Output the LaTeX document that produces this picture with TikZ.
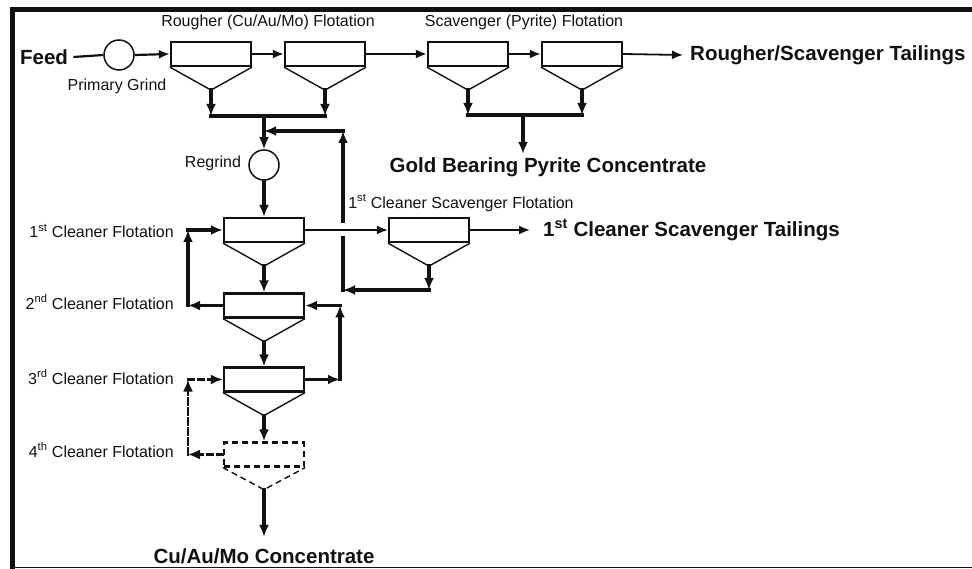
\documentclass[tikz,border=0pt]{standalone}
\usepackage{fontspec}
\setsansfont{Liberation Sans}
\usetikzlibrary{arrows.meta,calc}
\definecolor{fsink}{HTML}{111111}
\tikzset{
  cell/.style={rectangle,draw=fsink,line width=2.2pt,minimum width=80pt,minimum height=24pt,inner sep=0pt},
  trial/.style={dash pattern=on 6pt off 4pt},
  cone/.style={draw=fsink,line width=1.4pt},
  mill/.style={circle,draw=fsink,line width=1.5pt,minimum size=30pt,inner sep=0pt},
  bus/.style={draw=fsink,line width=3.2pt,line cap=rect},
  flow/.style={bus,-{Latex[length=12pt,width=10pt]}},
  pipe/.style={draw=fsink,line width=2.2pt},
  feedflow/.style={pipe,-{Latex[length=11pt,width=9pt]}},
  thinflow/.style={-{Latex[length=11pt,width=9pt]},draw=fsink,line width=1.8pt},
  label/.style={font=\sffamily\fontsize{16}{19}\selectfont,text=fsink},
  product/.style={font=\sffamily\fontsize{20.5}{24}\selectfont\bfseries,text=fsink},
}
\begin{document}
\begin{tikzpicture}[font=\sffamily,x=1pt,y=-1pt]
  \useasboundingbox (0,0) rectangle (972,569);
  \draw[fsink,line width=4.5pt] (10,9.5) -- (972,9.5);
  \draw[fsink,line width=5pt] (12.5,7.25) -- (12.5,569);
  \draw[fsink,line width=1.5pt] (12.5,567.5) -- (972,567.5);
  \foreach \n/\x/\y in {r1/211/54,r2/325/54,s1/468/54,s2/582/54,c1/264/230,cs/429/230,c2/264/305.5,c3/264/379.5} {
    \node[cell] (\n) at (\x,\y) {};
    \coordinate (\n-a) at ($(\n.south)+(0,23)$);
    \draw[cone] (\n.south west) -- (\n-a) -- (\n.south east);
  }
  \node[cell,trial] (c4) at (264,454.5) {};
  \coordinate (c4-a) at ($(c4.south)+(0,22)$);
  \draw[cone,trial] (c4.south west) -- (c4-a) -- (c4.south east);
  \node[mill] (pg) at (119,55) {};
  \node[mill] (rg) at (264,165) {};
  \node[product] (feed) at (44,57) {Feed};
  \node[label] (pglab) at (117,86) {Primary Grind};
  \node[label] (rlab) at (268,22) {Rougher (Cu/Au/Mo) Flotation};
  \node[label] (slab) at (524,22) {Scavenger (Pyrite) Flotation};
  \node[product,anchor=west,inner sep=0pt] (rst) at (690,55) {Rougher/Scavenger Tailings};
  \node[product] (gold) at (548,167) {Gold Bearing Pyrite Concentrate};
  \node[label] (rglab) at (213,163) {Regrind};
  \node[label] (cslab) at (461,203) {1\textsuperscript{st} Cleaner Scavenger Flotation};
  \node[product,anchor=west,inner sep=0pt] (cst) at (543,230) {1\textsuperscript{st} Cleaner Scavenger Tailings};
  \foreach \k/\s/\y in {1/st/231,2/nd/302,3/rd/377,4/th/450}
    \node[label,anchor=east,inner sep=0pt] (cl\k) at (174,\y) {\k\textsuperscript{\s} Cleaner Flotation};
  \node[product] (conc) at (264,556) {Cu/Au/Mo Concentrate};
  \coordinate (rbus) at (264,116);
  \coordinate (sbus) at (523,115);
  \coordinate (ret) at (343,131);
  \coordinate (csr) at (343,290);
  \coordinate (gapt) at (343,221);
  \coordinate (gapb) at (343,238);
  \coordinate (lcol) at (188,0);
  \coordinate (rcol) at (340,0);
  \draw[pipe] ([xshift=2pt]feed.east) -- (pg.west);
  \draw[feedflow] (pg.east) -- (r1.west);
  \draw[feedflow] (r1.east) -- (r2.west);
  \draw[feedflow] (r2.east) -- (s1.west);
  \draw[feedflow] (s1.east) -- (s2.west);
  \draw[thinflow] (s2.east) -- ([xshift=-7pt]rst.west);
  \foreach \n in {r1,r2} \draw[flow] (\n-a) -- (\n-a |- rbus);
  \draw[bus] (r1-a |- rbus) -- (r2-a |- rbus);
  \draw[flow] (rbus) -- (rg.north);
  \foreach \n in {s1,s2} \draw[flow] (\n-a) -- (\n-a |- sbus);
  \draw[bus] (s1-a |- sbus) -- (s2-a |- sbus);
  \draw[flow] (sbus) -- (sbus |- gold.north);
  \draw[flow] (rg.south) -- (c1.north);
  \draw[thinflow] (c1.east) -- (cs.west);
  \draw[thinflow] (cs.east) -- ([xshift=-13pt]cst.west);
  \draw[flow] (cs-a) -- (cs-a |- csr);
  \draw[flow] (cs-a |- csr) -- (csr);
  \draw[bus] (csr) -- (gapb);
  \draw[flow] (gapt) -- (ret);
  \draw[flow] (ret) -- (ret -| rbus);
  \draw[flow] (c1-a) -- (c2.north);
  \draw[flow] (c2-a) -- (c3.north);
  \draw[flow] (c3-a) -- (c4.north);
  \draw[flow] (c4-a) -- ([yshift=8pt]conc.north);
  \draw[flow] (c2.west) -- (c2.west -| lcol);
  \draw[flow] (c2.west -| lcol) -- (c1.west -| lcol);
  \draw[flow] (c1.west -| lcol) -- (c1.west);
  \draw[flow] (c3.east) -- (c3.east -| rcol);
  \draw[flow] (c3.east -| rcol) -- (c2.east -| rcol);
  \draw[flow] (c2.east -| rcol) -- (c2.east);
  \draw[flow,trial,line width=2.2pt] (c4.west) -- (c4.west -| lcol);
  \draw[flow,trial,line width=2.2pt] (c4.west -| lcol) -- (c3.west -| lcol);
  \draw[flow,trial,line width=2.2pt] (c3.west -| lcol) -- (c3.west);
\end{tikzpicture}
\end{document}
